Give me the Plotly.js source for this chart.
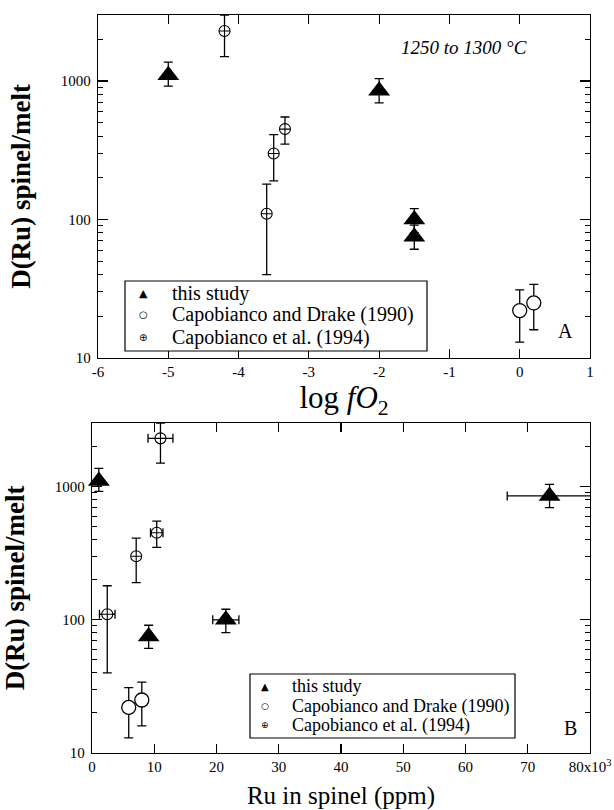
<!DOCTYPE html>
<html>
<head>
<meta charset="utf-8">
<script src="https://cdn.plot.ly/plotly-3.0.1.min.js"></script>
<style>
  html, body { margin: 0; padding: 0; background: #fff; }
  #chart { width: 614px; height: 810px; }
</style>
</head>
<body>
<div id="chart"></div>
<script>
// ---- Ru partitioning between spinel and melt ----
// "this study"
const logfO2_this = [-5, -2, -1.5, -1.5];
const D_this = [1100, 850, 100, 75];
const Dplus_this = [270, 190, 20, 16];
const Dminus_this = [180, 155, 20, 14];
const Ru_this = [1100, 73500, 21500, 9100];
const RuErr_this = [300, 6800, 2100, 500];

// Capobianco and Drake (1990)
const logfO2_cd90 = [0, 0.2];
const D_cd90 = [22, 25];
const Dplus_cd90 = [9, 9];
const Dminus_cd90 = [9, 9];
const Ru_cd90 = [5900, 8000];
const RuErr_cd90 = [0, 0];

// Capobianco et al. (1994)
const logfO2_c94 = [-4.2, -3.34, -3.5, -3.6];
const D_c94 = [2300, 450, 300, 110];
const Dplus_c94 = [700, 100, 110, 70];
const Dminus_c94 = [800, 100, 110, 70];
const Ru_c94 = [11000, 10400, 7100, 2450];
const RuErr_c94 = [2000, 1000, 0, 1250];

// Legend labels and their key glyphs
const seriesNames = ['this study', 'Capobianco and Drake (1990)', 'Capobianco et al. (1994)'];
const keyGlyphs = ['\u25B2', '\u25CB', '\u2295'];

// Tick labels
const fO2Ticks = [-6, -5, -4, -3, -2, -1, 0, 1];
const fO2TickText = ['-6', '-5', '-4', '-3', '-2', '-1', '0', '1'];
const RuTicks = [0, 10000, 20000, 30000, 40000, 50000, 60000, 70000, 80000];
const RuTickText = ['0', '10', '20', '30', '40', '50', '60', '70', '80x10<sup>3</sup>'];
const DTicks = [10, 100, 1000];
const DTickText = ['10', '100', '1000'];

const SERIF = 'Liberation Serif, DejaVu Serif, Times New Roman, Times, serif';
const SYMFONT = 'DejaVu Sans, sans-serif';

const styles = [
  { symbol: 'triangle-up', size: 19, color: '#000', line: { color: '#000', width: 0 } },
  { symbol: 'circle', size: 14, color: '#fff', line: { color: '#000', width: 1.3 } },
  { symbol: 'circle-cross', size: 11, color: '#fff', line: { color: '#000', width: 1.1 } }
];

function errY(plus, minus) {
  return { type: 'data', symmetric: false, array: plus, arrayminus: minus,
           color: '#000', thickness: 1.3, width: 4.5 };
}
function errX(arr) {
  return { type: 'data', array: arr, color: '#000', thickness: 1.3, width: 4.5 };
}

const sets = [
  { f: logfO2_this, ru: Ru_this, ruErr: RuErr_this, d: D_this, p: Dplus_this, m: Dminus_this },
  { f: logfO2_cd90, ru: Ru_cd90, ruErr: RuErr_cd90, d: D_cd90, p: Dplus_cd90, m: Dminus_cd90 },
  { f: logfO2_c94, ru: Ru_c94, ruErr: RuErr_c94, d: D_c94, p: Dplus_c94, m: Dminus_c94 }
];

const traces = [];
sets.forEach((s, i) => {
  // panel A: D vs log fO2
  traces.push({
    type: 'scatter', mode: 'markers', x: s.f, y: s.d, name: seriesNames[i],
    xaxis: 'x', yaxis: 'y', showlegend: false, cliponaxis: false,
    marker: styles[i], error_y: errY(s.p, s.m)
  });
  // panel B: D vs Ru in spinel
  traces.push({
    type: 'scatter', mode: 'markers', x: s.ru, y: s.d, name: seriesNames[i],
    xaxis: 'x2', yaxis: 'y2', showlegend: false, cliponaxis: false,
    marker: styles[i], error_y: errY(s.p, s.m), error_x: errX(s.ruErr)
  });
});

const W = 614, H = 810;
const px = v => v / W;
const py = v => 1 - v / H;

const axisBase = {
  showline: true, linecolor: '#000', linewidth: 1.3, mirror: 'ticks',
  ticks: 'inside', tickcolor: '#000', tickwidth: 1.2,
  showgrid: false, zeroline: false,
  tickfont: { family: SERIF, size: 15, color: '#000' }
};
const yMinor = { ticks: 'inside', ticklen: 5, tickcolor: '#000', tickwidth: 1, dtick: 'D1', showgrid: false };

function note(x, y, text, size) {
  return { xref: 'paper', yref: 'paper', x: px(x), y: py(y), text: text,
    xanchor: 'center', yanchor: 'middle', showarrow: false,
    font: { family: SERIF, size: size, color: '#000' } };
}

// Boxed keys, one per panel
const keyBoxes = [
  { x0: 125, x1: 427, y0: 281, y1: 351, symX: 143, textX: 170, rows: [293, 315, 337], font: 20, sym: [11, 10, 10] },
  { x0: 250, x1: 515, y0: 674, y1: 738, symX: 265, textX: 290, rows: [686, 706, 725], font: 18, sym: [10, 9, 9] }
];
const shapes = [];
const annotations = [
  note(464, 48, '<i>1250 to 1300 °C</i>', 19),
  note(565, 331, 'A', 20),
  note(570, 728, 'B', 20)
];
keyBoxes.forEach(k => {
  shapes.push({ type: 'rect', xref: 'paper', yref: 'paper', x0: px(k.x0), x1: px(k.x1), y0: py(k.y1), y1: py(k.y0),
    fillcolor: '#fff', line: { color: '#000', width: 1.2 }, layer: 'above' });
  seriesNames.forEach((name, i) => {
    annotations.push({ xref: 'paper', yref: 'paper', x: px(k.symX), y: py(k.rows[i]), text: keyGlyphs[i],
      xanchor: 'center', yanchor: 'middle', showarrow: false,
      font: { family: SYMFONT, size: k.sym[i], color: '#000' } });
    annotations.push({ xref: 'paper', yref: 'paper', x: px(k.textX), y: py(k.rows[i]), text: name,
      xanchor: 'left', yanchor: 'middle', showarrow: false,
      font: { family: SERIF, size: k.font, color: '#000' } });
  });
});

const layout = {
  width: W, height: H,
  margin: { l: 0, r: 0, t: 0, b: 0 },
  paper_bgcolor: '#fff', plot_bgcolor: '#fff',
  showlegend: false,
  font: { family: SERIF, color: '#000' },
  xaxis: Object.assign({}, axisBase, {
    domain: [px(98), px(590)], anchor: 'y',
    range: [-6, 1], tickmode: 'array', tickvals: fO2Ticks, ticktext: fO2TickText, ticklen: 9,
    ticklabelstandoff: 0,
    title: { text: 'log <i>fO</i><sub>2</sub>', font: { family: SERIF, size: 31 }, standoff: 0 }
  }),
  yaxis: Object.assign({}, axisBase, {
    domain: [py(358), py(15)], anchor: 'x', type: 'log',
    range: [1, Math.log10(3000)], tickmode: 'array', tickvals: DTicks, ticktext: DTickText, ticklen: 10,
    minor: yMinor, ticklabelstandoff: 3,
    title: { text: '<b>D(Ru) spinel/melt</b>', font: { family: SERIF, size: 27 }, standoff: 22 }
  }),
  xaxis2: Object.assign({}, axisBase, {
    domain: [px(92), px(590)], anchor: 'y2',
    range: [0, 80000], tickmode: 'array', tickvals: RuTicks, ticktext: RuTickText, ticklen: 9,
    ticklabelstandoff: 0,
    title: { text: 'Ru in spinel (ppm)', font: { family: SERIF, size: 25 }, standoff: 14 }
  }),
  yaxis2: Object.assign({}, axisBase, {
    domain: [py(753), py(423)], anchor: 'x2', type: 'log',
    range: [1, Math.log10(3000)], tickmode: 'array', tickvals: DTicks, ticktext: DTickText, ticklen: 10,
    minor: yMinor, ticklabelstandoff: 3,
    title: { text: '<b>D(Ru) spinel/melt</b>', font: { family: SERIF, size: 27 }, standoff: 22 }
  }),
  shapes: shapes,
  annotations: annotations
};

Plotly.newPlot('chart', traces, layout, { staticPlot: true, displayModeBar: false });
</script>
</body>
</html>
